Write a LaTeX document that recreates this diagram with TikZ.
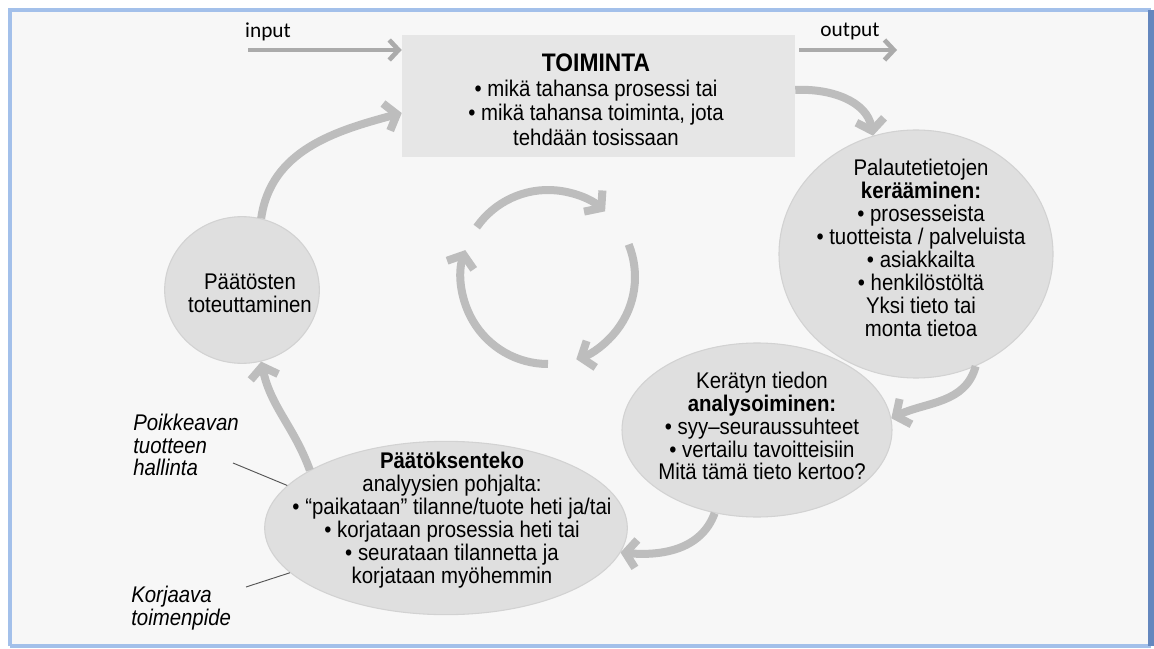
\documentclass[tikz,border=0pt]{standalone}
\usepackage{fontspec}
\setmainfont[FakeStretch=0.9]{Liberation Sans}
\newfontfamily\calfont{Carlito}
\usetikzlibrary{arrows.meta,shapes.geometric}
\definecolor{arrowgray}{HTML}{BDBDBD}
\definecolor{sarrowgray}{HTML}{ABABAB}
\definecolor{blobfill}{HTML}{DFDFDF}
\definecolor{blobdraw}{HTML}{D2D2D2}
\definecolor{boxfill}{HTML}{E6E6E6}
\definecolor{bgc}{HTML}{F7F7F7}
\definecolor{framelight}{HTML}{A3C0EA}
\definecolor{framedark}{HTML}{6487BE}
\definecolor{leadc}{HTML}{555555}
\tikzset{
  box/.style={rectangle, fill=boxfill, draw=none, minimum width=294.75pt, minimum height=91.5pt, inner sep=0pt},
  blob/.style={ellipse, fill=blobfill, draw=blobdraw, line width=0.8pt, inner sep=0pt},
  txt/.style={align=center, font=\fontsize{17}{17.2}\selectfont, text=black, inner sep=0pt},
  lab/.style={align=left, font=\fontsize{17}{16.9}\selectfont\itshape, inner sep=0pt},
  flow/.style={draw=arrowgray, line width=6pt, -{Straight Barb[length=8pt,width=21pt]}},
  sflow/.style={draw=sarrowgray, line width=3.5pt, -{Straight Barb[length=7pt,width=15pt]}},
  leader/.style={draw=leadc, line width=0.7pt},
}
\begin{document}
\begin{tikzpicture}[x=0.75pt,y=-0.75pt]
\useasboundingbox (0,0) rectangle (1154,649);
\fill[white] (0,0) rectangle (1154,649);
\fill[bgc] (10,10) rectangle (1151,646);
\draw[framelight, line width=3.5pt] (10,646) -- (10,10) -- (1151,10);
\draw[framelight, line width=3.5pt] (10,646) -- (1151,646);
\draw[framedark, line width=4pt] (1151,10) -- (1151,646);

% main box
\node[box] (toim) at (598.5,96) {};
\node[txt, font=\fontsize{17}{18.4}\selectfont] (toimt) at (596,100)
  {{\fontsize{19}{18.4}\selectfont\bfseries TOIMINTA}\\• mikä tahansa prosessi tai\\• mikä tahansa toiminta, jota\\tehdään tosissaan};

% ellipses
\node[blob, minimum width=205.5pt, minimum height=186pt] (fb) at (916,254) {};
\node[txt] (fbt) at (921,248)
  {Palautetietojen\\\textbf{kerääminen:}\\• prosesseista\\• tuotteista / palveluista\\• asiakkailta\\• henkilöstöltä\\Yksi tieto tai\\monta tietoa};

\node[blob, minimum width=202.5pt, minimum height=130.5pt] (an) at (757,430) {};
\node[txt] (ant) at (762,426)
  {Kerätyn tiedon\\\textbf{analysoiminen:}\\• syy–seuraussuhteet\\• vertailu tavoitteisiin\\Mitä tämä tieto kertoo?};

\node[blob, minimum width=272pt, minimum height=130pt] (pk) at (446,528) {};
\node[txt] (pkt) at (452,520)
  {\textbf{Päätöksenteko}\\analyysien pohjalta:\\• “paikataan” tilanne/tuote heti ja/tai\\• korjataan prosessia heti tai\\• seurataan tilannetta ja\\korjataan myöhemmin};

\node[blob, minimum width=116pt, minimum height=110pt] (pt) at (242,290) {};
\node[txt] (ptt) at (250,293) {Päätösten\\toteuttaminen};

% side labels
\node[lab, anchor=west] (poik) at (133,445) {Poikkeavan\\tuotteen\\hallinta};
\node[lab, anchor=west] (korj) at (131,608) {Korjaava\\toimenpide};
\coordinate (l1a) at (233,463);
\coordinate (l2a) at (246,587);
\draw[leader] (l1a) -- (pk.165);
\draw[leader] (l2a) -- (pk.196);

% input / output
\node[font=\calfont\fontsize{16}{18}\selectfont, inner sep=0pt] (inl) at (268,32) {input};
\node[font=\calfont\fontsize{16}{18}\selectfont, inner sep=0pt] (outl) at (850,31) {output};
\coordinate (inS) at (248,50);
\coordinate (outE) at (897,50);
\draw[sflow] (inS) -- (inS -| toim.west);
\draw[sflow] ([xshift=3pt]outE -| toim.east) -- (outE);

% cycle connectors
\draw[flow] ([yshift=4.5pt]toim.east) to[out=3, in=100] (fb.110);
\draw[flow] (fb.-62) to[out=-105, in=25] (an.5);
\draw[flow] (an.-117) to[out=-110, in=-5] (pk.-8);
\draw[flow] (pk.157) to[out=110, in=-78] (pt.-75);
\draw[flow] (pt.75) to[out=82, in=195] ([yshift=-12.75pt]toim.west);

% central rotating arrows
\coordinate (cyc) at (548,277);
\draw[flow] ([shift={(145:65.25pt)}]cyc) arc[start angle=145, end angle=49, radius=65.25pt];
\draw[flow] ([shift={(22:65.25pt)}]cyc) arc[start angle=22, end angle=-71, radius=65.25pt];
\draw[flow] ([shift={(-90:65.25pt)}]cyc) arc[start angle=-90, end angle=-198, radius=65.25pt];
\end{tikzpicture}
\end{document}
